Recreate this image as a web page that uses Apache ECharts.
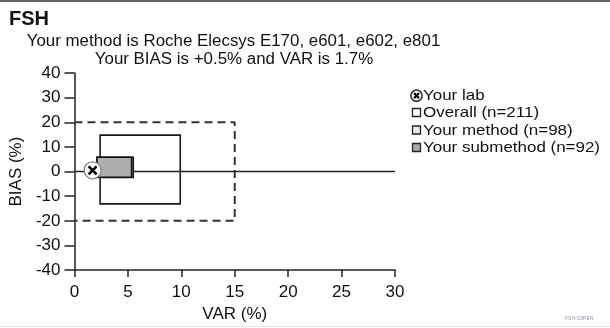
<!DOCTYPE html>
<html>
<head>
<meta charset="utf-8">
<script src="https://cdn.jsdelivr.net/npm/echarts@6/dist/echarts.min.js"></script>
<style>
html,body{margin:0;padding:0;background:#fff;}
#chart{width:610px;height:328px;}
</style>
</head>
<body>
<div id="chart"></div>
<script>
// ---- data ----
const xTicks = [0, 5, 10, 15, 20, 25, 30];
const yTicks = [-40, -30, -20, -10, 0, 10, 20, 30, 40];
// boxes: [varMin, varMax, biasMin, biasMax]
const limitBox = [0, 15, -20, 20];
const overallBox = [2.4, 9.9, -13.1, 14.8];
const methodBox = [2.1, 5.5, -2.4, 5.8];
const submethodBox = [2.1, 5.35, -2.3, 5.8];
const yourLab = [1.7, 0.5];
const legendNames = ['Your lab', 'Overall (n=211)', 'Your method (n=98)', 'Your submethod (n=92)'];
const titleText = 'FSH';
const subtitle1 = 'Your method is Roche Elecsys E170, e601, e602, e801';
const subtitle2 = 'Your BIAS is +0.5% and VAR is 1.7%';

const FONT = '"Liberation Sans", Arial, sans-serif';
const chart = echarts.init(document.getElementById('chart'), null, {renderer: 'canvas'});

function boxRender(fill, stroke, lw) {
  return function (params, api) {
    const p1 = api.coord([api.value(0), api.value(3)]);
    const p2 = api.coord([api.value(1), api.value(2)]);
    return {
      type: 'rect',
      shape: {x: p1[0], y: p1[1], width: p2[0] - p1[0], height: p2[1] - p1[1]},
      style: {fill: fill, stroke: stroke, lineWidth: lw}
    };
  };
}

const legendRows = [95.7, 112.5, 130, 147.5];
const legendGraphics = [];
legendGraphics.push({type: 'circle', shape: {cx: 416.5, cy: legendRows[0], r: 5.6}, style: {fill: '#fff', stroke: '#222', lineWidth: 1.5}});
legendGraphics.push({type: 'line', shape: {x1: 414, y1: legendRows[0] - 2.6, x2: 419, y2: legendRows[0] + 2.6}, style: {stroke: '#000', lineWidth: 2.2}});
legendGraphics.push({type: 'line', shape: {x1: 414, y1: legendRows[0] + 2.6, x2: 419, y2: legendRows[0] - 2.6}, style: {stroke: '#000', lineWidth: 2.2}});
const sqFills = ['#fff', '#e6e6e6', '#a8a8a8'];
for (let i = 1; i < 4; i++) {
  legendGraphics.push({type: 'rect', shape: {x: 412.5, y: legendRows[i] - 4, width: 8, height: 8}, style: {fill: sqFills[i - 1], stroke: '#222', lineWidth: 1.3}});
}
for (let i = 0; i < 4; i++) {
  legendGraphics.push({type: 'text', x: 423, y: legendRows[i] + 0.5, scaleX: 1.13, style: {text: legendNames[i], fill: '#111', font: '15px ' + FONT, align: 'left', verticalAlign: 'middle'}});
}

const option = {
  backgroundColor: '#fff',
  animation: false,
  grid: {left: 74, right: 215, top: 73, bottom: 57, containLabel: false},
  xAxis: {
    type: 'value', min: 0, max: 30, interval: 5,
    name: 'VAR (%)', nameLocation: 'middle', nameGap: 32,
    nameTextStyle: {fontFamily: FONT, fontSize: 17, color: '#111'},
    axisLine: {show: true, onZero: false, lineStyle: {color: '#222', width: 1.5}},
    axisTick: {show: true, length: 7, lineStyle: {color: '#222', width: 1.5}},
    axisLabel: {fontFamily: FONT, fontSize: 17, color: '#111', margin: 14},
    splitLine: {show: false}
  },
  yAxis: {
    type: 'value', min: -40, max: 40, interval: 10,
    name: 'BIAS (%)', nameLocation: 'middle', nameGap: 47,
    nameTextStyle: {fontFamily: FONT, fontSize: 17, color: '#111'},
    axisLine: {show: true, onZero: false, lineStyle: {color: '#222', width: 1.5}},
    axisTick: {show: true, length: 10, lineStyle: {color: '#222', width: 1.5}},
    axisLabel: {fontFamily: FONT, fontSize: 17, color: '#111', margin: 14},
    splitLine: {show: false}
  },
  series: [
    {
      name: 'limits', type: 'line', symbol: 'none', silent: true, z: 2,
      data: [[limitBox[0], limitBox[3]], [limitBox[1], limitBox[3]], [limitBox[1], limitBox[2]], [limitBox[0], limitBox[2]]],
      lineStyle: {color: '#333', width: 2, type: [8, 5]}
    },
    {
      name: legendNames[1], type: 'custom', z: 3, renderItem: boxRender(null, '#1a1a1a', 1.6),
      encode: {x: [0, 1], y: [2, 3]}, data: [overallBox]
    },
    {
      name: 'zero', type: 'line', symbol: 'none', silent: true, z: 4,
      data: [[xTicks[0], 0], [xTicks[xTicks.length - 1], 0]],
      lineStyle: {color: '#222', width: 1.5}
    },
    {
      name: legendNames[2], type: 'custom', z: 5, renderItem: boxRender('#e6e6e6', '#111', 1.6),
      encode: {x: [0, 1], y: [2, 3]}, data: [methodBox]
    },
    {
      name: legendNames[3], type: 'custom', z: 6, renderItem: boxRender('#adadad', '#111', 1.6),
      encode: {x: [0, 1], y: [2, 3]}, data: [submethodBox]
    },
    {
      name: legendNames[0], type: 'custom', z: 8,
      encode: {x: 0, y: 1}, data: [yourLab],
      renderItem: function (params, api) {
        const c = api.coord([api.value(0), api.value(1)]);
        const d = 4;
        return {
          type: 'group', children: [
            {type: 'circle', shape: {cx: c[0], cy: c[1], r: 8.5}, style: {fill: '#fff', stroke: '#888', lineWidth: 1.3}},
            {type: 'line', shape: {x1: c[0] - d, y1: c[1] - d, x2: c[0] + d, y2: c[1] + d}, style: {stroke: '#000', lineWidth: 2.6}},
            {type: 'line', shape: {x1: c[0] - d, y1: c[1] + d, x2: c[0] + d, y2: c[1] - d}, style: {stroke: '#000', lineWidth: 2.6}}
          ]
        };
      }
    }
  ],
  graphic: [
    {type: 'rect', shape: {x: 0, y: 0, width: 610, height: 2}, style: {fill: '#666'}},
    {type: 'rect', shape: {x: 0, y: 326, width: 610, height: 1}, style: {fill: '#e4e4e4'}},
    {type: 'text', x: 565, y: 316, style: {text: 'FSH-C8PEN', fill: '#99a', font: '5px ' + FONT}},
    {type: 'text', x: 9, y: 19.5, style: {text: titleText, fill: '#111', font: 'bold 20px ' + FONT, align: 'left', verticalAlign: 'middle'}},
    {type: 'text', x: 233.5, y: 41.5, scaleX: 1.056, style: {text: subtitle1, fill: '#111', font: '16px ' + FONT, align: 'center', verticalAlign: 'middle'}},
    {type: 'text', x: 234, y: 59.5, scaleX: 1.056, style: {text: subtitle2, fill: '#111', font: '16px ' + FONT, align: 'center', verticalAlign: 'middle'}}
  ].concat(legendGraphics)
};
chart.setOption(option);
</script>
</body>
</html>
